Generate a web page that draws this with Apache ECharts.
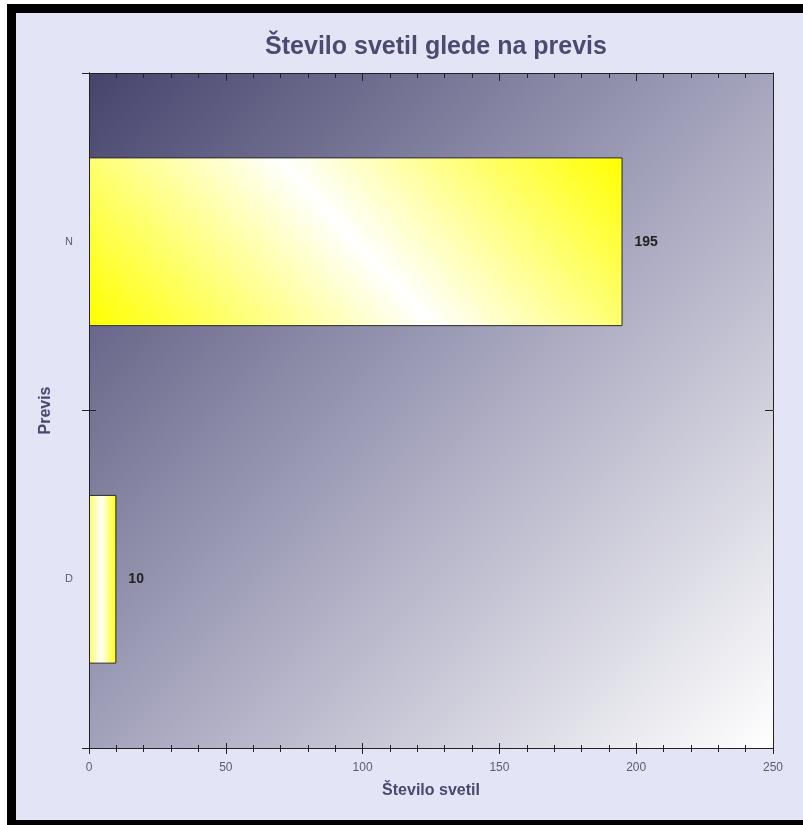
<!DOCTYPE html>
<html>
<head>
<meta charset="utf-8">
<script src="https://cdn.jsdelivr.net/npm/echarts@6/dist/echarts.min.js"></script>
<style>
  html, body { margin: 0; padding: 0; background: #ffffff; }
  #frame { position: absolute; left: 7px; top: 4px; width: 796px; height: 821px; background: #000000; }
  #panel { position: absolute; left: 16px; top: 13px; width: 787px; height: 807px; background: #e4e4f7; }
  #chart { position: absolute; left: 0; top: 0; width: 803px; height: 825px; }
</style>
</head>
<body>
<div id="frame"></div>
<div id="panel"></div>
<div id="chart"></div>
<script>
// Categories listed bottom-to-top (category axes start from the bottom)
const categories = ['D', 'N'];
const counts = [10, 195];
const xTicks = { min: 0, max: 250, interval: 50 };

const titleText = 'Število svetil glede na previs';
const xName = 'Število svetil';
const yName = 'Previs';

const axisColor = '#222222';
const labelGray = '#5e5e6a';
const nameColor = '#4a4870';
const font = 'Liberation Sans, Arial, sans-serif';

// Yellow bars with a white sheen; the wide bar gets a diagonal sheen,
// the narrow one a vertical sheen.
const sheenWide = new echarts.graphic.LinearGradient(0.151, 1.515, 0.849, -0.515, [
  { offset: 0, color: '#ffff00' },
  { offset: 0.5, color: '#ffffff' },
  { offset: 1, color: '#ffff00' }
]);
const sheenNarrow = new echarts.graphic.LinearGradient(0, 0, 1, 0, [
  { offset: 0, color: '#ffff66' },
  { offset: 0.45, color: '#ffffff' },
  { offset: 1, color: '#ffff00' }
]);
const barFills = [sheenNarrow, sheenWide];

const plotBg = new echarts.graphic.LinearGradient(0, 0, 1, 1, [
  { offset: 0, color: '#46446c' },
  { offset: 0.5, color: '#a4a3bc' },
  { offset: 1, color: '#ffffff' }
]);

// Every axis stays on its own grid edge (no snapping to the zero line)
const edgeLine = { show: true, onZero: false, lineStyle: { color: axisColor, width: 1 } };

const valueAxisBase = {
  type: 'value',
  z: 5,
  min: xTicks.min,
  max: xTicks.max,
  interval: xTicks.interval,
  splitLine: { show: false },
  axisLine: edgeLine,
  minorSplitLine: { show: false }
};

const categoryAxisBase = {
  type: 'category',
  z: 5,
  data: categories,
  splitLine: { show: false },
  axisLine: edgeLine
};

const chart = echarts.init(document.getElementById('chart'), null, { renderer: 'canvas' });

chart.setOption({
  backgroundColor: 'transparent',
  animation: false,
  title: {
    text: titleText,
    left: 431,
    textAlign: 'center',
    top: 30,
    textStyle: { fontFamily: font, fontSize: 25, fontWeight: 'bold', color: '#4b4a70' }
  },
  grid: {
    left: 89, right: 30, top: 73, bottom: 77,
    show: true,
    borderWidth: 0,
    backgroundColor: plotBg
  },
  xAxis: [
    Object.assign({}, valueAxisBase, {
      position: 'bottom',
      name: xName,
      nameLocation: 'middle',
      nameGap: 35,
      nameTextStyle: { fontFamily: font, fontSize: 16, fontWeight: 'bold', color: nameColor },
      axisTick: { show: true, inside: false, length: 6, lineStyle: { color: axisColor } },
      minorTick: { show: true, splitNumber: 5, length: 4, lineStyle: { color: axisColor } },
      axisLabel: { margin: 14, fontFamily: font, fontSize: 12, color: labelGray }
    }),
    Object.assign({}, valueAxisBase, {
      position: 'bottom',
      axisTick: { show: true, inside: true, length: 5, lineStyle: { color: axisColor } },
      minorTick: { show: true, splitNumber: 5, length: 3, lineStyle: { color: axisColor } },
      axisLabel: { show: false }
    }),
    Object.assign({}, valueAxisBase, {
      position: 'top',
      axisTick: { show: true, inside: true, length: 8, lineStyle: { color: axisColor } },
      minorTick: { show: true, splitNumber: 5, length: 5, lineStyle: { color: axisColor } },
      axisLabel: { show: false }
    })
  ],
  yAxis: [
    Object.assign({}, categoryAxisBase, {
      position: 'left',
      name: yName,
      nameLocation: 'middle',
      nameGap: 35,
      nameRotate: 90,
      nameTextStyle: { fontFamily: font, fontSize: 16, fontWeight: 'bold', color: nameColor },
      axisTick: { show: true, alignWithLabel: false, inside: false, length: 7, lineStyle: { color: axisColor } },
      axisLabel: { margin: 16, fontFamily: font, fontSize: 11, color: labelGray }
    }),
    Object.assign({}, categoryAxisBase, {
      position: 'left',
      axisTick: { show: true, alignWithLabel: false, inside: true, length: 7, lineStyle: { color: axisColor } },
      axisLabel: { show: false }
    }),
    Object.assign({}, categoryAxisBase, {
      position: 'right',
      axisTick: { show: true, alignWithLabel: false, inside: true, length: 8, lineStyle: { color: axisColor } },
      axisLabel: { show: false }
    })
  ],
  series: [{
    type: 'bar',
    xAxisIndex: 0,
    yAxisIndex: 0,
    barWidth: '50%',
    data: counts.map((v, i) => ({
      value: v,
      itemStyle: { color: barFills[i], borderColor: '#2a2a2a', borderWidth: 1 }
    })),
    label: {
      show: true,
      position: 'right',
      distance: 12,
      fontFamily: font,
      fontSize: 14,
      fontWeight: 'bold',
      color: '#222222'
    }
  }]
});
</script>
</body>
</html>
